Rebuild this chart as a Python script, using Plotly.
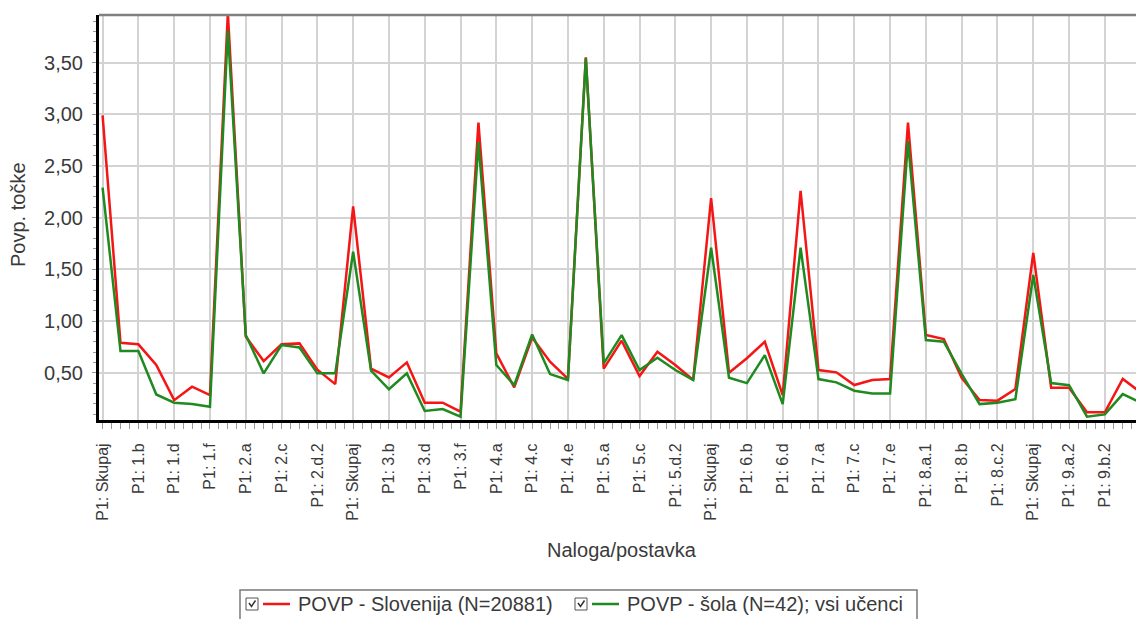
import plotly.graph_objects as go

# Item labels (one "Skupaj" total precedes each task's items)
labels = [
    "P1: Skupaj", "P1: 1.a", "P1: 1.b", "P1: 1.c", "P1: 1.d", "P1: 1.e", "P1: 1.f",
    "P1: Skupaj", "P1: 2.a", "P1: 2.b", "P1: 2.c", "P1: 2.d.1", "P1: 2.d.2", "P1: 2.e",
    "P1: Skupaj", "P1: 3.a", "P1: 3.b", "P1: 3.c", "P1: 3.d", "P1: 3.e", "P1: 3.f",
    "P1: Skupaj", "P1: 4.a", "P1: 4.b", "P1: 4.c", "P1: 4.d", "P1: 4.e",
    "P1: Skupaj", "P1: 5.a", "P1: 5.b", "P1: 5.c", "P1: 5.d.1", "P1: 5.d.2", "P1: 5.e",
    "P1: Skupaj", "P1: 6.a", "P1: 6.b", "P1: 6.c", "P1: 6.d",
    "P1: Skupaj", "P1: 7.a", "P1: 7.b", "P1: 7.c", "P1: 7.d", "P1: 7.e",
    "P1: Skupaj", "P1: 8.a.1", "P1: 8.a.2", "P1: 8.b", "P1: 8.c.1", "P1: 8.c.2", "P1: 8.d",
    "P1: Skupaj", "P1: 9.a.1", "P1: 9.a.2", "P1: 9.b.1", "P1: 9.b.2", "P1: 9.c.1", "P1: 9.c.2",
]

# Average points, national sample
slovenija = [
    2.99, 0.79, 0.775, 0.575, 0.235, 0.365, 0.284,
    3.98, 0.85, 0.613, 0.775, 0.784, 0.53, 0.39,
    2.11, 0.54, 0.455, 0.60, 0.21, 0.21, 0.123,
    2.92, 0.687, 0.358, 0.84, 0.607, 0.44,
    3.55, 0.54, 0.81, 0.468, 0.703, 0.574, 0.43,
    2.19, 0.50, 0.64, 0.80, 0.284,
    2.26, 0.526, 0.504, 0.381, 0.43, 0.44,
    2.92, 0.865, 0.826, 0.45, 0.236, 0.23, 0.342,
    1.66, 0.355, 0.355, 0.117, 0.117, 0.44, 0.31,
]

# Average points, school (all pupils)
sola = [
    2.29, 0.71, 0.71, 0.29, 0.21, 0.197, 0.171,
    3.81, 0.865, 0.494, 0.768, 0.745, 0.494, 0.494,
    1.67, 0.52, 0.34, 0.494, 0.13, 0.149, 0.075,
    2.73, 0.574, 0.38, 0.87, 0.487, 0.43,
    3.54, 0.59, 0.864, 0.526, 0.645, 0.526, 0.43,
    1.71, 0.452, 0.40, 0.67, 0.197,
    1.71, 0.439, 0.407, 0.326, 0.30, 0.30,
    2.74, 0.816, 0.80, 0.49, 0.197, 0.21, 0.245,
    1.445, 0.40, 0.38, 0.075, 0.097, 0.294, 0.21,
]

y_ticks = [0.5, 1.0, 1.5, 2.0, 2.5, 3.0, 3.5]

name_slo = "POVP - Slovenija (N=20881)"
name_sola = "POVP - šola (N=42); vsi učenci"

RED = "#f51515"
GREEN = "#1f8a1f"
FONT = "Liberation Sans, Arial, sans-serif"
TXT = "#3a3a3a"

W, H = 1136, 619
L, R, T, B = 99, 0, 15, 199
x_idx = list(range(len(labels)))

fig = go.Figure()
fig.add_trace(go.Scatter(x=x_idx, y=slovenija, mode="lines", name=name_slo,
                         line=dict(color=RED, width=2.5), showlegend=False))
fig.add_trace(go.Scatter(x=x_idx, y=sola, mode="lines", name=name_sola,
                         line=dict(color=GREEN, width=2.5), showlegend=False))

# pixel -> paper helpers for the hand-built legend
pw, ph = W - L - R, H - T - B
def px(x):
    return (x - L) / pw
def py(y):
    return (H - B - y) / ph

shapes = []
annotations = []

# top frame line
shapes.append(dict(type="line", xref="paper", yref="paper", x0=0, x1=1, y0=1, y1=1,
                   line=dict(color="#808080", width=2.5)))

# legend frame
shapes.append(dict(type="rect", xref="paper", yref="paper",
                   x0=px(240), x1=px(917), y0=py(590), y1=py(650),
                   line=dict(color="#7a7a7a", width=1.5), fillcolor="rgba(0,0,0,0)"))

def legend_item(x_box, color, text):
    # checkbox
    shapes.append(dict(type="rect", xref="paper", yref="paper",
                       x0=px(x_box), x1=px(x_box + 12), y0=py(598), y1=py(610),
                       line=dict(color="#555555", width=1), fillcolor="white"))
    path = "M {} {} L {} {} L {} {}".format(px(x_box + 3), py(603), px(x_box + 5.5), py(606.5),
                                            px(x_box + 9.5), py(600.5))
    shapes.append(dict(type="path", xref="paper", yref="paper", path=path,
                       line=dict(color="#333333", width=1.5)))
    # line sample
    shapes.append(dict(type="line", xref="paper", yref="paper",
                       x0=px(x_box + 17), x1=px(x_box + 44), y0=py(604), y1=py(604),
                       line=dict(color=color, width=2.5)))
    annotations.append(dict(text=text, xref="paper", yref="paper", x=px(x_box + 50), y=py(604),
                            xanchor="left", yanchor="middle", showarrow=False,
                            font=dict(family=FONT, size=20, color=TXT)))

legend_item(246, RED, name_slo)
legend_item(575, GREEN, name_sola)

# axis titles
annotations.append(dict(text="Naloga/postavka", xref="paper", yref="paper", x=px(622), y=py(550),
                        xanchor="center", yanchor="middle", showarrow=False,
                        font=dict(family=FONT, size=20, color=TXT)))
annotations.append(dict(text="Povp. točke", xref="paper", yref="paper", x=px(18), y=py(215),
                        xanchor="center", yanchor="middle", showarrow=False, textangle=-90,
                        font=dict(family=FONT, size=20, color=TXT)))

fig.update_layout(
    width=W, height=H, autosize=False,
    margin=dict(l=L, r=R, t=T, b=B, pad=0),
    paper_bgcolor="white", plot_bgcolor="white",
    separators=",.",
    font=dict(family=FONT, color=TXT),
    shapes=shapes, annotations=annotations,
    showlegend=False,
)

fig.update_xaxes(
    range=[-0.2, 57.74],
    tickmode="array", tickvals=x_idx[::2], ticktext=labels[::2],
    tickangle=-90, tickfont=dict(family=FONT, size=16, color=TXT),
    showgrid=True, gridcolor="#d3d3d3", gridwidth=1.5,
    showline=True, linecolor="black", linewidth=3,
    ticks="outside", ticklen=6, tickcolor="#9a9a9a", tickwidth=1,
    ticklabelstandoff=8,
    minor=dict(tickmode="linear", tick0=0, dtick=0.5, ticks="outside", ticklen=6,
               tickcolor="#9a9a9a", tickwidth=1, showgrid=False),
    zeroline=False,
)

fig.update_yaxes(
    range=[0.043, 3.96],
    tickmode="array", tickvals=y_ticks, tickformat=".2f",
    tickfont=dict(family=FONT, size=20, color=TXT),
    showgrid=True, gridcolor="#d3d3d3", gridwidth=1.5,
    showline=True, linecolor="black", linewidth=3,
    ticks="outside", ticklen=4, tickcolor="#9a9a9a", tickwidth=1,
    ticklabelstandoff=5,
    minor=dict(tickmode="linear", tick0=0, dtick=0.1, ticks="outside", ticklen=3,
               tickcolor="#9a9a9a", tickwidth=1, showgrid=False),
    zeroline=False,
)

fig.write_html("out.html")
